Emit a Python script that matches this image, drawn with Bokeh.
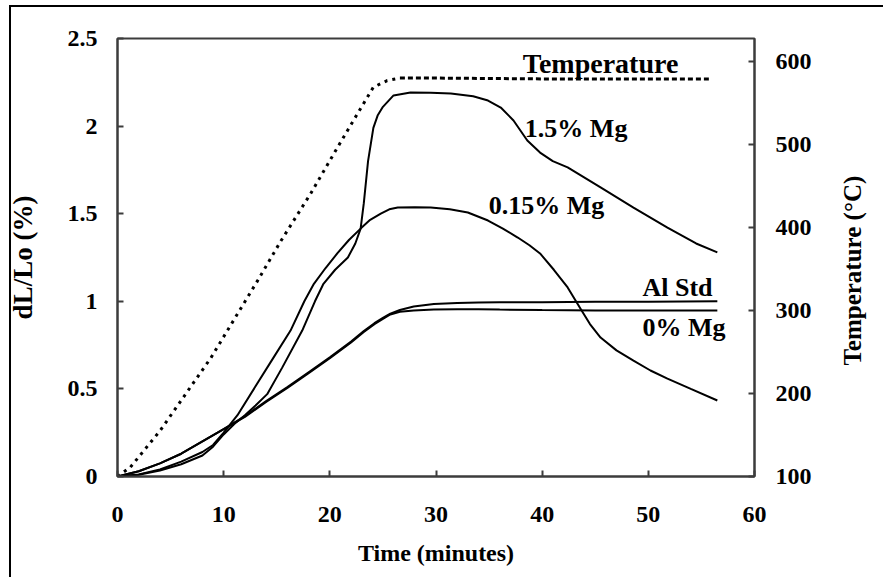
import math
from bokeh.plotting import figure
from bokeh.models import Range1d, LinearAxis, FixedTicker, Label, InlineStyleSheet
from bokeh.embed import file_html
from bokeh.resources import INLINE

# ---- data ----
temp_t = [0, 1.2, 4.0, 8.8, 13.2, 15.4, 18.2, 20.7, 22.6, 24.1, 25.4, 26.6, 30, 40, 50, 55.7]
temp_T = [100, 111, 155, 243, 336, 384, 441, 496, 537, 569, 577, 580, 580, 579, 579, 579]

mg15_t = [0, 2, 4, 6, 8, 9, 10, 11, 12, 13, 14.1, 15.5, 17.4, 18.6, 19.4, 20.5, 21.7, 22.4, 22.9,
          23.2, 23.6, 24.1, 24.5, 25.0, 26.0, 27.6, 29.5, 31.4, 33.5, 34.9, 36.1, 37.3, 38.6, 39.8,
          41.0, 42.4, 45.5, 48.6, 51.8, 54.5, 56.5]
mg15_v = [0, 0.01, 0.034, 0.07, 0.12, 0.17, 0.24, 0.3, 0.35, 0.405, 0.47, 0.62, 0.833, 1.0, 1.10,
          1.18, 1.25, 1.33, 1.415, 1.56, 1.80, 1.99, 2.06, 2.11, 2.175, 2.192, 2.19, 2.186, 2.17,
          2.146, 2.106, 2.032, 1.918, 1.849, 1.80, 1.764, 1.650, 1.535, 1.421, 1.33, 1.279]

mg015_t = [0, 2, 4, 6, 8, 9, 10, 11.3, 13, 14.5, 16.3, 17.6, 18.5, 19.6, 20.7, 21.8, 22.9, 23.8,
           24.8, 25.6, 26.4, 28, 29.5, 31.3, 33.0, 34.9, 36.3, 37.7, 38.8, 39.8, 41.1, 42.4, 43.6,
           44.5, 45.5, 47, 48.6, 50.2, 51.8, 54, 56.5]
mg015_v = [0, 0.012, 0.04, 0.085, 0.14, 0.18, 0.25, 0.35, 0.515, 0.66, 0.833, 1.0, 1.10, 1.19,
           1.273, 1.35, 1.415, 1.465, 1.501, 1.525, 1.535, 1.537, 1.535, 1.525, 1.507, 1.461,
           1.415, 1.364, 1.32, 1.273, 1.18, 1.079, 0.959, 0.87, 0.793, 0.72, 0.662, 0.605,
           0.559, 0.5, 0.434]

alstd_t = [0, 2, 4, 6, 8, 10, 12, 14, 16, 18, 20, 22, 23.2, 24.2, 25.0, 25.7, 26.6, 27.9, 29.8,
           32, 34, 36, 40, 45, 50, 56.5]
alstd_v = [0, 0.03, 0.075, 0.13, 0.2, 0.27, 0.345, 0.43, 0.51, 0.595, 0.68, 0.77, 0.83, 0.875,
           0.905, 0.93, 0.95, 0.97, 0.985, 0.99, 0.993, 0.994, 0.995, 0.997, 0.998, 1.0]

mg0_t = [0, 2, 4, 6, 8, 10, 12, 14, 16, 18, 20, 22, 23.2, 24.2, 25.0, 25.7, 26.6, 27.9, 29.8,
         32, 34, 36, 40, 45, 50, 56.5]
mg0_v = [0, 0.03, 0.075, 0.13, 0.2, 0.27, 0.34, 0.425, 0.505, 0.59, 0.675, 0.765, 0.825, 0.87,
         0.9, 0.925, 0.94, 0.948, 0.953, 0.955, 0.955, 0.953, 0.95, 0.948, 0.947, 0.947]

x_ticks = [0, 10, 20, 30, 40, 50, 60]
y_ticks = [0, 0.5, 1, 1.5, 2, 2.5]
y_tick_labels = ["0", "0.5", "1", "1.5", "2", "2.5"]
t_ticks = [100, 200, 300, 400, 500, 600]

hold_start = 11  # index where the temperature hold (dashed) begins

FONT = "Liberation Serif"
AX = "#3c3c3c"

p = figure(width=883, height=577, output_backend="svg", toolbar_location=None,
           x_range=Range1d(0, 60), y_range=Range1d(0, 2.5),
           min_border_left=117, min_border_right=129, min_border_top=38, min_border_bottom=101)
p.extra_y_ranges = {"temp": Range1d(100, 627.7)}
# outer picture border (only its left and top edges are inside the picture)
p.stylesheets = [InlineStyleSheet(css=(
    ":host::after { content: ''; position: absolute; left: 9px; top: 5px; "
    "width: 872px; height: 570px; border-left: 2px solid black; border-top: 2px solid black; "
    "pointer-events: none; z-index: 10; }"))]

p.xgrid.visible = False
p.ygrid.visible = False
p.background_fill_color = "white"
p.border_fill_color = "white"
p.outline_line_color = AX
p.outline_line_width = 2

def style_axis(ax, title_size):
    ax.axis_line_color = AX
    ax.axis_line_width = 2
    ax.major_tick_line_color = AX
    ax.major_tick_line_width = 2
    ax.major_tick_in = 6
    ax.major_tick_out = 0
    ax.minor_tick_line_color = None
    ax.major_label_text_font = FONT
    ax.major_label_text_font_style = "bold"
    ax.major_label_text_font_size = "24px"
    ax.major_label_text_color = "black"
    ax.axis_label_text_font = FONT
    ax.axis_label_text_font_style = "bold"
    ax.axis_label_text_font_size = title_size
    ax.axis_label_text_color = "black"

xa = p.xaxis[0]
style_axis(xa, "24px")
xa.ticker = FixedTicker(ticks=x_ticks)
xa.major_label_standoff = 30
xa.axis_label = "Time (minutes)"
xa.axis_label_standoff = 15

ya = p.yaxis[0]
style_axis(ya, "27px")
ya.ticker = FixedTicker(ticks=y_ticks)
ya.major_label_overrides = {t: s for t, s in zip(y_ticks, y_tick_labels)}
ya.major_label_standoff = 20
ya.axis_label = "dL/Lo (%)"
ya.axis_label_standoff = 27

ra = LinearAxis(y_range_name="temp")
style_axis(ra, "25px")
ra.ticker = FixedTicker(ticks=t_ticks)
ra.major_label_standoff = 21
p.add_layout(ra, "right")

# second right axis carrying only the title, reading bottom to top;
# the title starts at 233.7 on the temperature scale
title_start = 233.7
rt = LinearAxis(y_range_name="temp")
style_axis(rt, "25px")
rt.ticker = FixedTicker(ticks=[title_start])
rt.major_label_overrides = {title_start: "Temperature (\u00b0C)"}
rt.major_label_text_font_size = "25px"
rt.major_label_orientation = math.pi / 2
rt.axis_line_color = None
rt.major_tick_line_color = None
rt.major_label_standoff = 38
p.add_layout(rt, "right")

LW = 2
p.line(mg15_t, mg15_v, line_color="black", line_width=LW)
p.line(mg015_t, mg015_v, line_color="black", line_width=LW)
p.line(alstd_t, alstd_v, line_color="black", line_width=LW)
p.line(mg0_t, mg0_v, line_color="black", line_width=LW)
p.line(temp_t[:hold_start + 1], temp_T[:hold_start + 1], y_range_name="temp",
       line_color="black", line_width=3, line_dash="3 5")
p.line(temp_t[hold_start:], temp_T[hold_start:], y_range_name="temp",
       line_color="black", line_width=3, line_dash="5 3")

def lab(x, y, text, align="left", size="26px"):
    p.add_layout(Label(x=x, y=y, text=text, text_align=align, text_baseline="middle",
                       text_font=FONT, text_font_style="bold", text_font_size=size,
                       text_color="black"))

lab(45.5, 2.357, "Temperature", "center", "28px")
lab(43.2, 1.986, "1.5% Mg", "center")
lab(40.4, 1.547, "0.15% Mg", "center")
lab(49.45, 1.079, "Al Std")
lab(49.45, 0.850, "0% Mg")

open("out.html", "w").write(file_html(p, INLINE))
